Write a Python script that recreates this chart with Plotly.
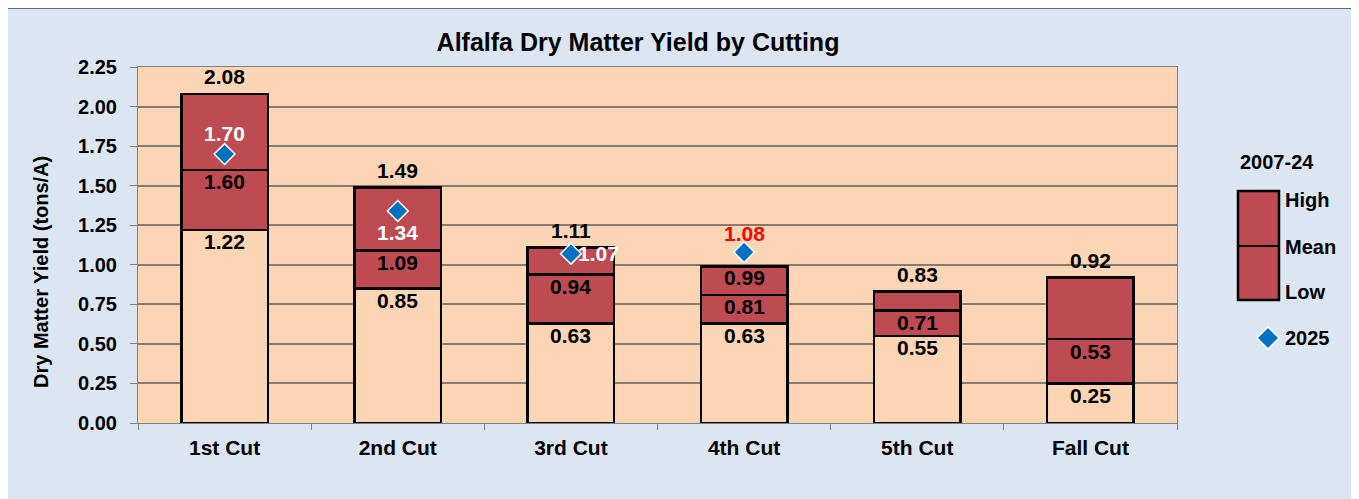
import plotly.graph_objects as go

categories = ["1st Cut", "2nd Cut", "3rd Cut", "4th Cut", "5th Cut", "Fall Cut"]
low_vals = [1.22, 0.85, 0.63, 0.63, 0.55, 0.25]
mean_vals = [1.60, 1.09, 0.94, 0.81, 0.71, 0.53]
high_vals = [2.08, 1.49, 1.11, 0.99, 0.83, 0.92]
yield_2025 = [1.70, 1.34, 1.07, 1.08, None, None]
y_ticks = [0, 0.25, 0.5, 0.75, 1.0, 1.25, 1.5, 1.75, 2.0, 2.25]

PEACH = "#fcd5b5"
RED = "#be4b52"
BLUE_BG = "#dce6f2"
DIAMOND = "#0070c0"
GRID = "#877b70"
FONT = "Liberation Sans"

fig = go.Figure()
bar_line = dict(color="black", width=2.5)
fig.add_trace(go.Bar(x=categories, y=low_vals, marker=dict(color=PEACH, line=bar_line),
                     width=0.5, showlegend=False, hoverinfo="skip"))
fig.add_trace(go.Bar(x=categories, y=[m - l for m, l in zip(mean_vals, low_vals)],
                     marker=dict(color=RED, line=bar_line), width=0.5, showlegend=False, hoverinfo="skip"))
fig.add_trace(go.Bar(x=categories, y=[h - m for h, m in zip(high_vals, mean_vals)],
                     marker=dict(color=RED, line=bar_line), width=0.5, showlegend=False, hoverinfo="skip"))
fig.add_trace(go.Scatter(x=categories, y=yield_2025, mode="markers",
                         marker=dict(symbol="diamond", size=16, color=DIAMOND,
                                     line=dict(color="white", width=1.5)),
                         showlegend=False))

LAB = 21
lab_font = dict(family=FONT, size=LAB, color="black")
annotations = []
for i, c in enumerate(categories):
    inside = yield_2025[i] is not None and yield_2025[i] > high_vals[i] and i == 3
    annotations.append(dict(x=c, y=high_vals[i], text=f"{high_vals[i]:.2f}", showarrow=False,
                            font=lab_font, yanchor="middle",
                            yshift=-11 if inside else 17))
    annotations.append(dict(x=c, y=mean_vals[i], text=f"{mean_vals[i]:.2f}", showarrow=False,
                            font=lab_font, yanchor="middle", yshift=-12))
    annotations.append(dict(x=c, y=low_vals[i], text=f"{low_vals[i]:.2f}", showarrow=False,
                            font=lab_font, yanchor="middle", yshift=-12))

y25_style = [
    dict(color="white", xshift=0, yshift=21),
    dict(color="white", xshift=0, yshift=-22),
    dict(color="white", xshift=28, yshift=0),
    dict(color="red", xshift=0, yshift=19),
]
for i, st in enumerate(y25_style):
    v = yield_2025[i]
    annotations.append(dict(x=categories[i], y=v, text=f"{v:.2f}", showarrow=False,
                            font=dict(family=FONT, size=LAB, color=st["color"]),
                            yanchor="middle",
                            xshift=st["xshift"], yshift=st["yshift"]))

# Layout geometry; reference screen coords, page body has 8px margin
OFF = 8
W, H = 1351, 491
PL, PR, PT, PB = 138 - OFF, 1177 - OFF, 67 - OFF, 423 - OFF
def px(x):
    return (x - OFF - PL) / (PR - PL)
def py(y):
    return (PB - (y - OFF)) / (PB - PT)

shapes = [
    dict(type="rect", xref="paper", yref="paper", x0=px(7), x1=px(1355), y0=py(530), y1=py(8),
         fillcolor=BLUE_BG, line=dict(color="#3f3f3f", width=1.5), layer="below"),
    dict(type="rect", xref="paper", yref="paper", x0=0, x1=1, y0=0, y1=1,
         fillcolor=PEACH, line=dict(width=0), layer="below"),
    dict(type="rect", xref="paper", yref="paper", x0=px(1238), x1=px(1279), y0=py(300), y1=py(191),
         fillcolor=RED, line=dict(color="black", width=2.5)),
    dict(type="line", xref="paper", yref="paper", x0=px(1238), x1=px(1279), y0=py(246), y1=py(246),
         line=dict(color="black", width=2)),
    dict(type="path", xref="paper", yref="paper",
         path=f"M {px(1268)},{py(327)} L {px(1279)},{py(338)} L {px(1268)},{py(349)} L {px(1257)},{py(338)} Z",
         fillcolor=DIAMOND, line=dict(color="white", width=1.5)),
]

leg_font = dict(family=FONT, size=20, color="black")
def leg(x, y, text, xanchor="left"):
    return dict(xref="paper", yref="paper", x=px(x), y=py(y), text=text, showarrow=False,
                font=leg_font, xanchor=xanchor, yanchor="middle")

annotations += [
    leg(1277, 162, "2007-24", "center"),
    leg(1283, 200, "High"),
    leg(1283, 247, "Mean"),
    leg(1283, 292, "Low"),
    leg(1283, 338, "2025"),
]
annotations.append(dict(xref="paper", yref="paper", x=px(41), y=py(272), text="Dry Matter Yield (tons/A)",
                        textangle=-90, showarrow=False, xanchor="center", yanchor="middle",
                        font=dict(family=FONT, size=20, color="black")))
for a in annotations:
    a["text"] = f"<b>{a['text']}</b>"

fig.update_layout(
    width=W, height=H,
    barmode="stack", bargap=0.5,
    paper_bgcolor="white", plot_bgcolor="rgba(0,0,0,0)",
    margin=dict(l=PL, r=W - PR, t=PT, b=H - PB),
    title=dict(text="<b>Alfalfa Dry Matter Yield by Cutting</b>", x=(638 - OFF) / W, xanchor="center",
               y=1 - (42 - OFF) / H, yanchor="middle", font=dict(family=FONT, size=25, color="black")),
    font=dict(family=FONT, color="black"),
    shapes=shapes, annotations=annotations,
)
fig.update_xaxes(range=[-0.5, 5.5], tickson="boundaries", ticks="outside", ticklen=6,
                 tickcolor="#808080", showline=True, linecolor="#808080", linewidth=1, mirror=True,
                 tickfont=dict(family=FONT, size=21, color="black"), showgrid=False,
                 ticklabelstandoff=6,
                 tickprefix="<b>", ticksuffix="</b>")
fig.update_yaxes(range=[0, 2.25], tickvals=y_ticks, ticktext=[f"<b>{v:.2f}</b>" for v in y_ticks],
                 ticks="outside", ticklen=7, tickcolor="#808080",
                 showline=True, linecolor="#808080", linewidth=1, mirror=True,
                 showgrid=True, gridcolor=GRID, gridwidth=1.5, zeroline=False,
                 ticklabelstandoff=9,
                 tickfont=dict(family=FONT, size=20, color="black"))

fig.write_html("out.html")
